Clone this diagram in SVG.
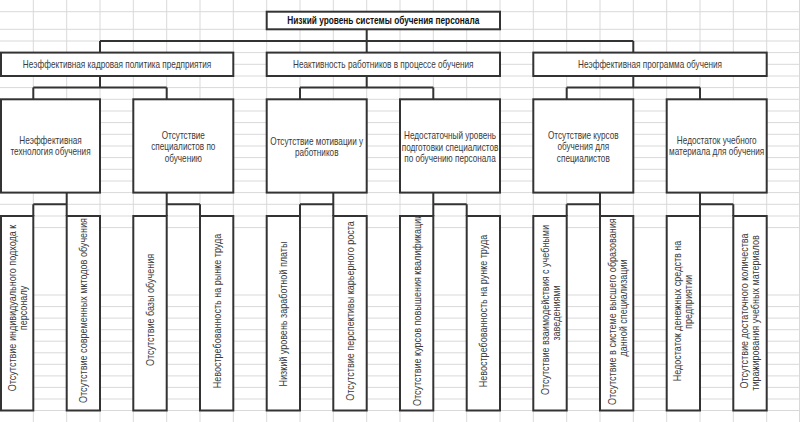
<svg xmlns="http://www.w3.org/2000/svg" width="800" height="422" viewBox="0 0 800 422">
<defs>
<style>
.grid{stroke:#d9d9d9;stroke-width:1;fill:none}
.box{fill:#fff;stroke:#333;stroke-width:2}
.conn{fill:none;stroke:#333;stroke-width:2}
.t{font-family:"Liberation Sans",Arial,sans-serif;font-size:10px;fill:#3a3a3a;text-anchor:middle}
.v{font-size:10.5px}
.title{font-weight:bold;font-size:10.5px;fill:#111}
.s{text-anchor:start}
</style>
<clipPath id="leafclip"><rect x="0" y="215" width="800" height="198"/></clipPath>
</defs>
<rect width="800" height="422" fill="#fff"/>
<path class="grid" d="M33.3 0V422M66.7 0V422M100 0V422M133.3 0V422M166.7 0V422M200 0V422M233.3 0V422M266.7 0V422M300 0V422M333.3 0V422M366.7 0V422M400 0V422M433.3 0V422M466.7 0V422M500 0V422M533.3 0V422M566.7 0V422M600 0V422M633.3 0V422M666.7 0V422M700 0V422M733.3 0V422M766.7 0V422M799.5 0V422
M0 11.7H800M0 29.3H800M0 41H800M0 52.6H800M0 64.3H800M0 76H800M0 87.6H800M0 99.3H800M0 111H800M0 122.6H800M0 134.3H800M0 146H800M0 157.6H800M0 169.3H800M0 181H800M0 192.6H800M0 204.3H800M0 216H800M0 227.6H800M0 295H800M0 306.6H800M0 318.1H800M0 329.7H800M0 341.2H800M0 352.8H800M0 364.3H800M0 375.9H800M0 387.4H800M0 399H800M0 410.5H800"/>

<g id="connectors">
<path class="conn" d="M366.7 29.3V41M100 41H633.3M100 41V52.6M366.7 41V52.6M633.3 41V52.6"/>
<path class="conn" d="M100 76V87.6M33.3 87.6H166.7M33.3 87.6V99.3M166.7 87.6V99.3"/>
<path class="conn" d="M366.7 76V87.6M300 87.6H433.3M300 87.6V99.3M433.3 87.6V99.3"/>
<path class="conn" d="M633.3 76V87.6M566.7 87.6H700M566.7 87.6V99.3M700 87.6V99.3"/>
<path class="conn" d="M66.7 192.6V216M33.3 204.3H66.7M33.3 204.3V216"/>
<path class="conn" d="M166.7 192.6V216M166.7 204.3H200M200 204.3V216"/>
<path class="conn" d="M333.3 192.6V216M300 204.3H333.3M300 204.3V216"/>
<path class="conn" d="M433.3 192.6V216M433.3 204.3H466.7M466.7 204.3V216"/>
<path class="conn" d="M600 192.6V216M566.7 204.3H600M566.7 204.3V216"/>
<path class="conn" d="M700 192.6V216M700 204.3H733.3M733.3 204.3V216"/>
</g>

<g id="root">
<rect class="box" x="266.7" y="11.7" width="233.3" height="17.6"/>
<text class="t title" transform="translate(383.3 24.2) scale(.79 1)">Низкий уровень системы обучения персонала</text>
</g>

<g id="l2-1">
<rect class="box" x="1" y="52.6" width="232.3" height="23.4"/>
<text class="t" transform="translate(117 68) scale(.82 1)">Неэффективная кадровая политика предприятия</text>
</g>
<g id="l2-2">
<rect class="box" x="266.7" y="52.6" width="233.3" height="23.4"/>
<text class="t" transform="translate(383.3 68) scale(.82 1)">Неактивность работников в процессе обучения</text>
</g>
<g id="l2-3">
<rect class="box" x="533.3" y="52.6" width="233.4" height="23.4"/>
<text class="t" transform="translate(650 68) scale(.82 1)">Неэффективная программа обучения</text>
</g>

<g id="l3-1">
<rect class="box" x="1" y="99.3" width="99" height="93.3"/>
<text class="t" transform="translate(50.5 143.5) scale(.82 1)">Неэффективная</text>
<text class="t" transform="translate(50.5 155.2) scale(.82 1)">технология обучения</text>
</g>
<g id="l3-2">
<rect class="box" x="133.3" y="99.3" width="100" height="93.3"/>
<text class="t" transform="translate(183.3 138.5) scale(.82 1)">Отсутствие</text>
<text class="t" transform="translate(183.3 150.2) scale(.82 1)">специалистов по</text>
<text class="t" transform="translate(183.3 161.9) scale(.82 1)">обучению</text>
</g>
<g id="l3-3">
<rect class="box" x="266.7" y="99.3" width="100" height="93.3"/>
<text class="t" transform="translate(316.7 144.5) scale(.82 1)">Отсутствие мотивации у</text>
<text class="t" transform="translate(316.7 156.2) scale(.82 1)">работников</text>
</g>
<g id="l3-4">
<rect class="box" x="400" y="99.3" width="100" height="93.3"/>
<text class="t" transform="translate(450 139) scale(.82 1)">Недостаточный уровень</text>
<text class="t" transform="translate(450 150.7) scale(.82 1)">подготовки специалистов</text>
<text class="t" transform="translate(450 162.4) scale(.82 1)">по обучению персонала</text>
</g>
<g id="l3-5">
<rect class="box" x="533.3" y="99.3" width="100" height="93.3"/>
<text class="t" transform="translate(583.3 138.5) scale(.82 1)">Отсутствие курсов</text>
<text class="t" transform="translate(583.3 150.2) scale(.82 1)">обучения для</text>
<text class="t" transform="translate(583.3 161.9) scale(.82 1)">специалистов</text>
</g>
<g id="l3-6">
<rect class="box" x="666.7" y="99.3" width="100" height="93.3"/>
<text class="t" transform="translate(716.7 143.5) scale(.82 1)">Недостаток учебного</text>
<text class="t" transform="translate(716.7 155.2) scale(.82 1)">материала для обучения</text>
</g>

<g id="leaf-1" clip-path="url(#leafclip)">
<rect class="box" x="1" y="216" width="32.3" height="194.5"/>
<text class="t v" transform="translate(15.5 308) rotate(-90) scale(.86 1)">Отсутствие индивидуального подхода к</text>
<text class="t v" transform="translate(27 308) rotate(-90) scale(.86 1)">персоналу</text>
</g>
<g id="leaf-2" clip-path="url(#leafclip)">
<rect class="box" x="66.7" y="216" width="33.3" height="194.5"/>
<text class="t v s" transform="translate(86.5 403) rotate(-90) scale(.86 1)">Отсутствие современных мктодов обучения</text>
</g>
<g id="leaf-3" clip-path="url(#leafclip)">
<rect class="box" x="133.3" y="216" width="33.4" height="194.5"/>
<text class="t v" transform="translate(153.5 310) rotate(-90) scale(.86 1)">Отсутствие базы обучения</text>
</g>
<g id="leaf-4" clip-path="url(#leafclip)">
<rect class="box" x="200" y="216" width="33.3" height="194.5"/>
<text class="t v" transform="translate(220.5 311) rotate(-90) scale(.86 1)">Невостребованность на рынке труда</text>
</g>
<g id="leaf-5" clip-path="url(#leafclip)">
<rect class="box" x="266.7" y="216" width="33.3" height="194.5"/>
<text class="t v" transform="translate(286.5 314) rotate(-90) scale(.86 1)">Низкий уровень заработной платы</text>
</g>
<g id="leaf-6" clip-path="url(#leafclip)">
<rect class="box" x="333.3" y="216" width="33.4" height="194.5"/>
<text class="t v" transform="translate(353.5 311) rotate(-90) scale(.86 1)">Отсутствие перспективы карьерного роста</text>
</g>
<g id="leaf-7" clip-path="url(#leafclip)">
<rect class="box" x="400" y="216" width="33.3" height="194.5"/>
<text class="t v s" transform="translate(420.5 406) rotate(-90) scale(.86 1)">Отсутствие курсов повышения квалификации</text>
</g>
<g id="leaf-8" clip-path="url(#leafclip)">
<rect class="box" x="466.7" y="216" width="33.3" height="194.5"/>
<text class="t v" transform="translate(486.5 311) rotate(-90) scale(.86 1)">Невостребованность на рунке труда</text>
</g>
<g id="leaf-9" clip-path="url(#leafclip)">
<rect class="box" x="533.3" y="216" width="33.4" height="194.5"/>
<text class="t v" transform="translate(548.5 310) rotate(-90) scale(.86 1)">Отсутствие взаимодействия с учебными</text>
<text class="t v" transform="translate(560 313) rotate(-90) scale(.86 1)">заведениями</text>
</g>
<g id="leaf-10" clip-path="url(#leafclip)">
<rect class="box" x="600" y="216" width="33.3" height="194.5"/>
<text class="t v s" transform="translate(615.5 405) rotate(-90) scale(.86 1)">Отсутствие в системе высшего образования</text>
<text class="t v" transform="translate(627 308) rotate(-90) scale(.86 1)">данной специализации</text>
</g>
<g id="leaf-11" clip-path="url(#leafclip)">
<rect class="box" x="666.7" y="216" width="33.3" height="194.5"/>
<text class="t v" transform="translate(680.5 311) rotate(-90) scale(.86 1)">Недостаток денежных средств на</text>
<text class="t v" transform="translate(692 302) rotate(-90) scale(.86 1)">предприятии</text>
</g>
<g id="leaf-12" clip-path="url(#leafclip)">
<rect class="box" x="733.3" y="216" width="33.4" height="194.5"/>
<text class="t v" transform="translate(747.5 311) rotate(-90) scale(.86 1)">Отсутствие достаточного количества</text>
<text class="t v" transform="translate(759 313) rotate(-90) scale(.86 1)">тиражирования учебных материалов</text>
</g>
</svg>
